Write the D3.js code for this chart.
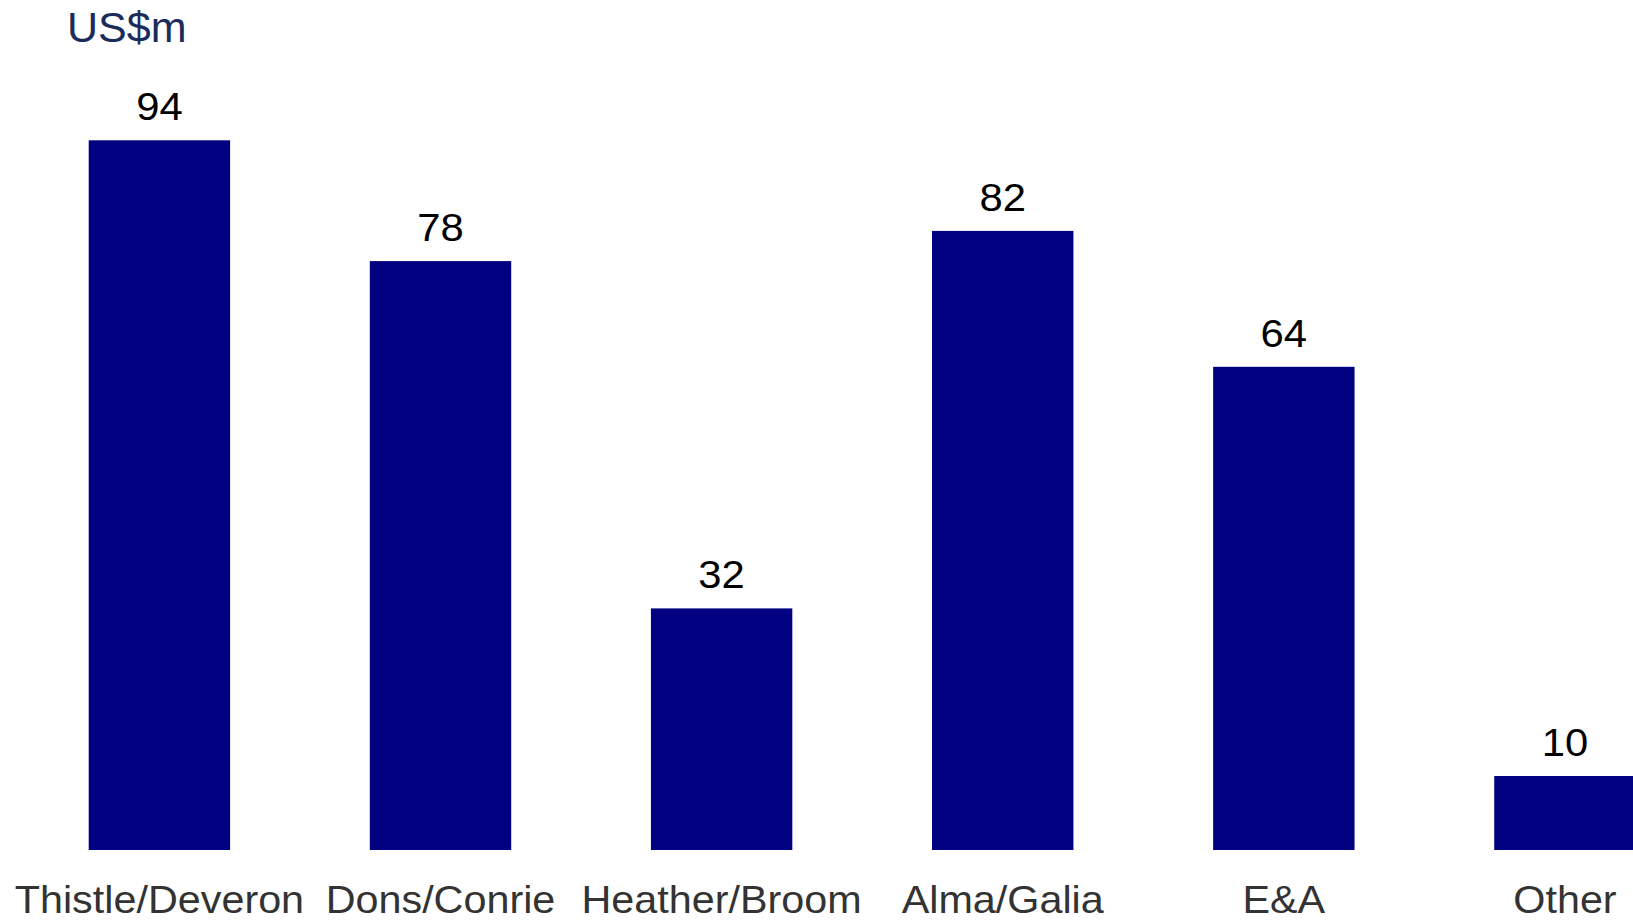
<!DOCTYPE html>
<html>
<head>
<meta charset="utf-8">
<script src="https://cdn.jsdelivr.net/npm/d3@7"></script>
<style>
  html, body { margin: 0; padding: 0; background: #ffffff; overflow: hidden; }
  svg { display: block; }
  text { font-family: "Liberation Sans", Arial, sans-serif; }
</style>
</head>
<body>
<svg id="chart" width="1633" height="922"></svg>
<script>
const categories = ["Thistle/Deveron", "Dons/Conrie", "Heather/Broom", "Alma/Galia", "E&A", "Other"];
const values = [94, 78, 32, 82, 64, 9.8];
const valueLabels = ["94", "78", "32", "82", "64", "10"];
const unitLabel = "US$m";

const width = 1633, height = 922;
const svg = d3.select("#chart");

const x = d3.scaleBand()
  .domain(categories)
  .range([18.85, 1705.5])
  .paddingInner(0.497)
  .paddingOuter(0.2485);

const y = d3.scaleLinear()
  .domain([0, 100])
  .range([850, 95]);

// bars
svg.append("g")
  .selectAll("rect")
  .data(categories)
  .join("rect")
  .attr("x", d => x(d))
  .attr("y", (d, i) => y(values[i]))
  .attr("width", x.bandwidth())
  .attr("height", (d, i) => y(0) - y(values[i]))
  .attr("fill", "#000080");

// value labels
svg.append("g")
  .selectAll("text")
  .data(categories)
  .join("text")
  .attr("transform", (d, i) => `translate(${x(d) + x.bandwidth() / 2},${y(values[i]) - 20}) scale(1.1,1)`)
  .attr("text-anchor", "middle")
  .attr("font-size", 38)
  .attr("fill", "#000000")
  .text((d, i) => valueLabels[i]);

// category axis (no line, no ticks)
const xAxis = d3.axisBottom(x).tickSize(0).tickPadding(0);
const gx = svg.append("g")
  .attr("transform", `translate(0, 850)`)
  .call(xAxis);
gx.select(".domain").remove();
gx.selectAll("text")
  .attr("dy", null)
  .attr("y", 0)
  .attr("transform", "translate(0,63) scale(1.06,1)")
  .attr("font-size", 39)
  .attr("font-family", "'Liberation Sans', Arial, sans-serif")
  .attr("fill", "#333333");

// unit label
svg.append("text")
  .attr("x", 67)
  .attr("y", 42)
  .attr("font-size", 43)
  .attr("fill", "#1a2c5b")
  .text(unitLabel);
</script>
</body>
</html>
